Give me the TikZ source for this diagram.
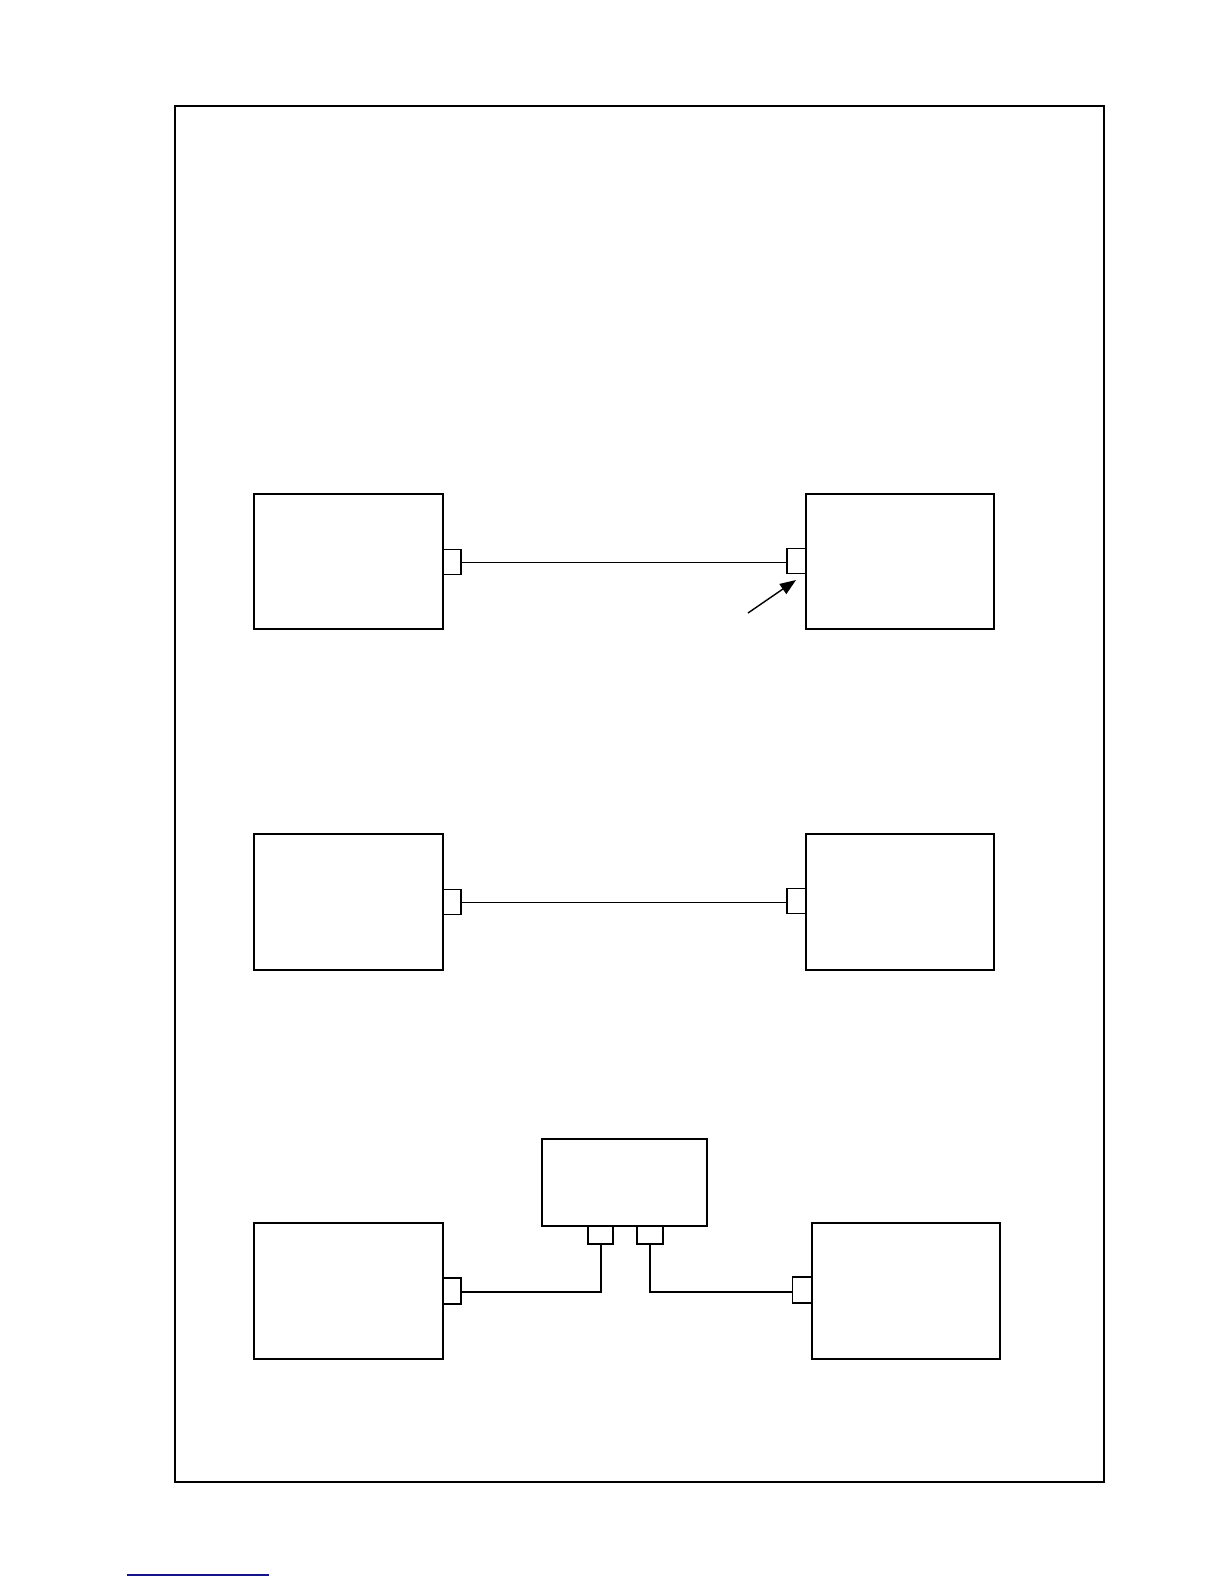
\documentclass[tikz,border=0pt]{standalone}
\usetikzlibrary{arrows.meta}
\definecolor{linkblue}{RGB}{20,20,140}
\begin{document}
\begin{tikzpicture}[x=1pt,y=-1pt,
  frame/.style={draw=black,line width=1.6pt},
  unit/.style={draw=black,line width=2pt},
  port/.style={draw=black,line width=1.3pt,fill=white,inner sep=0pt},
  wire/.style={draw=black,line width=1pt},
  thickwire/.style={draw=black,line width=2pt},
  pointer/.style={draw=black,line width=1.4pt,-{Triangle[length=16pt,width=12pt]}}]
\useasboundingbox (0,0) rectangle (1224,1584);
% outer frame
\draw[frame] (175,106) rectangle (1104,1482);
% row 1
\draw[unit] (254,494) rectangle (443,629);
\draw[unit] (806,494) rectangle (994,629);
\node[port,minimum width=18pt,minimum height=25pt] (p1l) at (452,562) {};
\node[port,minimum width=19pt,minimum height=25pt] (p1r) at (796.5,561) {};
\draw[wire] (p1l.east |- 0,562) -- (p1r.west |- 0,562);
\coordinate (arrS) at (748,613);
\coordinate (arrE) at (796,580);
\draw[pointer] (arrS) -- (arrE);
% row 2
\draw[unit] (254,834) rectangle (443,970);
\draw[unit] (806,834) rectangle (994,970);
\node[port,minimum width=18pt,minimum height=25pt] (p2l) at (452,902) {};
\node[port,minimum width=19pt,minimum height=25pt] (p2r) at (796.5,901) {};
\draw[wire] (p2l.east |- 0,902) -- (p2r.west |- 0,902);
% row 3
\draw[unit] (254,1223) rectangle (443,1359);
\draw[unit] (812,1223) rectangle (1000,1359);
\draw[unit] (542,1139) rectangle (707,1226);
\node[port,minimum width=18pt,minimum height=26pt] (p3l) at (452,1291) {};
\node[port,minimum width=19pt,minimum height=26pt] (p3r) at (802,1290) {};
\node[port,minimum width=25pt,minimum height=18pt] (p3a) at (600.5,1235) {};
\node[port,minimum width=26pt,minimum height=18pt] (p3b) at (650,1235) {};
\draw[thickwire] (p3l.east |- 0,1292) -| (p3a.south);
\draw[thickwire] (p3b.south) |- (p3r.west |- 0,1292);
% blue underline
\coordinate (bl1) at (127,1575);
\coordinate (bl2) at (269,1575);
\draw[linkblue,line width=1.2pt] (bl1) -- (bl2);
\end{tikzpicture}
\end{document}
